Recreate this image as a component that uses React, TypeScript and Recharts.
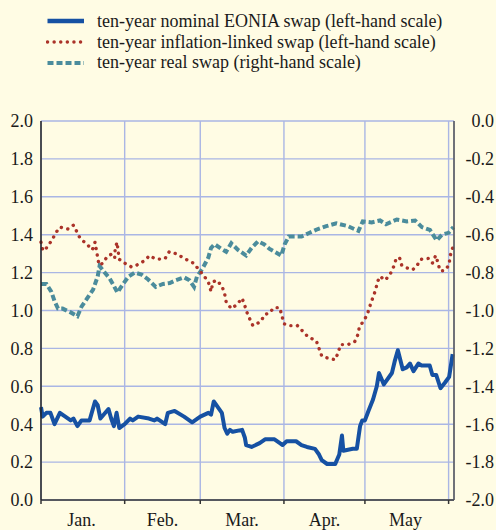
import { LineChart, Line, XAxis, YAxis, CartesianGrid } from "recharts";

// days counted from 1 January
const MONTH_LABELS = ["Jan.", "Feb.", "Mar.", "Apr.", "May"];
const MONTH_STARTS = [0, 31, 59, 90, 120, 151];
const MONTH_MIDS = [15, 45, 74.5, 105, 135];
const LEFT_TICKS = [0, 0.2, 0.4, 0.6, 0.8, 1.0, 1.2, 1.4, 1.6, 1.8, 2.0];
const RIGHT_TICKS = [-2.0, -1.8, -1.6, -1.4, -1.2, -1.0, -0.8, -0.6, -0.4, -0.2, 0];

const NOMINAL_DAYS = [
  0, 0.6, 2, 3.5, 5, 7, 9, 11, 12, 13.5, 15, 18, 20, 21, 22, 25, 26, 27, 28, 29,
  31, 33, 34, 36, 40, 42, 43, 46, 47, 49.5, 53, 56, 59, 62, 63, 64, 65.5, 67, 68, 69,
  70, 71, 74.5, 75.5, 76, 78, 81, 83, 84.5, 86.5, 88.5, 89.5, 91, 94.5, 96.5, 98.5, 101.5, 103, 104, 106,
  109, 110.5, 111.5, 112, 115.5, 117, 118.2, 119, 120, 121.3, 123, 124.4, 125.2, 127, 130, 131, 132.2, 134, 135.5, 136.7,
  138, 139.8, 141, 144, 145, 146.4, 148, 149.7, 151.2, 152.5,
];
const NOMINAL = [
  0.49, 0.44, 0.46, 0.46, 0.4, 0.46, 0.44, 0.42, 0.43, 0.39, 0.42, 0.42, 0.52, 0.5, 0.43, 0.48, 0.43, 0.39, 0.46, 0.38,
  0.4, 0.43, 0.42, 0.44, 0.43, 0.42, 0.43, 0.4, 0.46, 0.47, 0.44, 0.41, 0.44, 0.46, 0.45, 0.52, 0.49, 0.46, 0.38, 0.35,
  0.37, 0.36, 0.37, 0.33, 0.29, 0.28, 0.3, 0.32, 0.32, 0.32, 0.3, 0.29, 0.31, 0.31, 0.29, 0.28, 0.27, 0.24, 0.21, 0.19,
  0.19, 0.24, 0.34, 0.26, 0.27, 0.27, 0.39, 0.42, 0.42, 0.47, 0.53, 0.6, 0.67, 0.61, 0.67, 0.73, 0.79, 0.69, 0.7, 0.72,
  0.68, 0.72, 0.71, 0.71, 0.66, 0.66, 0.59, 0.62, 0.65, 0.77,
];

const INFLATION_DAYS = [
  0, 0.7, 2, 4, 5.5, 7, 10, 12, 13.5, 14.5, 17, 19, 20, 20.5, 21, 21.5, 23, 24.5, 26.5, 27.3,
  27.5, 28.2, 28.5, 29, 31, 33.5, 35.5, 38, 40.3, 42, 44.5, 46, 47.5, 50, 52.5, 55, 56.5, 58.5, 60.5, 62,
  63, 63.7, 65, 67, 68, 68.6, 70.5, 72.5, 74.5, 75.4, 76.3, 77.5, 78.5, 81.3, 83, 84.5, 86.3, 88.4, 89.3, 90,
  92, 95, 97, 99, 102, 103, 104, 106, 109, 110, 111, 113.7, 116.2, 117.3, 118, 119.8, 121, 122, 123, 124,
  124.6, 125.6, 127.5, 129.3, 130.6, 131.5, 132.8, 133.6, 135.5, 137.7, 139.2, 140.7, 143.5, 145, 146.2, 147, 147.8, 149.4, 151.2, 151.5,
  152.5,
];
const INFLATION = [
  1.36, 1.315, 1.33, 1.37, 1.41, 1.44, 1.43, 1.45, 1.41, 1.38, 1.35, 1.32, 1.36, 1.32, 1.28, 1.24, 1.25, 1.285, 1.3, 1.28,
  1.33, 1.36, 1.32, 1.27, 1.25, 1.23, 1.24, 1.26, 1.29, 1.275, 1.27, 1.275, 1.31, 1.3, 1.28, 1.26, 1.25, 1.215, 1.18, 1.15,
  1.1, 1.15, 1.16, 1.13, 1.09, 1.045, 1.01, 1.03, 1.065, 1.03, 0.99, 0.95, 0.92, 0.94, 0.98, 0.985, 1.015, 1.015, 0.97, 0.93,
  0.92, 0.92, 0.89, 0.86, 0.84, 0.8, 0.76, 0.75, 0.74, 0.775, 0.82, 0.82, 0.835, 0.87, 0.915, 0.95, 0.985, 1.03, 1.07, 1.11,
  1.15, 1.18, 1.16, 1.19, 1.23, 1.27, 1.28, 1.24, 1.225, 1.215, 1.235, 1.27, 1.275, 1.25, 1.29, 1.255, 1.21, 1.21, 1.24, 1.285,
  1.33,
];

const REAL_DAYS = [
  0, 2, 3.8, 5, 6.3, 8, 11, 13.5, 15, 17.4, 19.3, 21, 21.7, 23.6, 25.4, 27, 28.3, 30.4, 32.5, 34.7,
  37.2, 39.6, 42.5, 45.2, 47.7, 50, 53, 55, 56.7, 57.8, 59.8, 62, 63, 64.3, 66.8, 68.6, 70.5, 73, 76, 78,
  80.4, 82.6, 84.7, 87.2, 89, 90.3, 91.8, 96.5, 99.5, 102.6, 105.7, 109.4, 113.7, 116.8, 117.6, 119.2, 122.5, 125.6, 127.8, 131.8,
  135.5, 138.6, 141.1, 144.1, 146.6, 148.5, 151, 152.8,
];
const REAL = [
  -0.86, -0.86, -0.9, -0.95, -0.99, -0.99, -1.01, -1.03, -0.98, -0.93, -0.89, -0.82, -0.765, -0.8, -0.83, -0.87, -0.905, -0.86, -0.82, -0.8,
  -0.81, -0.835, -0.875, -0.86, -0.855, -0.84, -0.825, -0.84, -0.875, -0.82, -0.78, -0.72, -0.67, -0.65, -0.675, -0.69, -0.645, -0.68, -0.71, -0.67,
  -0.635, -0.65, -0.675, -0.695, -0.71, -0.65, -0.61, -0.61, -0.59, -0.57, -0.555, -0.54, -0.555, -0.575, -0.58, -0.53, -0.535, -0.525, -0.545, -0.52,
  -0.53, -0.525, -0.56, -0.575, -0.63, -0.6, -0.59, -0.56,
];

const BG = "#fffce4";
const GRID = "#aab6e4";
const BLUE = "#1651a3";
const RED = "#ab3329";
const TEAL = "#4b8c9c";
const FONT = "Liberation Serif";

type Row = { day: number; nominal?: number; inflation?: number; real?: number };

// one table keyed by day, each series filling in its own days
function buildRows(): Row[] {
  const byDay = new Map<number, Row>();
  const put = (days: number[], values: number[], key: "nominal" | "inflation" | "real") => {
    days.forEach((day, i) => {
      const row = byDay.get(day) ?? { day };
      row[key] = values[i];
      byDay.set(day, row);
    });
  };
  put(NOMINAL_DAYS, NOMINAL, "nominal");
  put(INFLATION_DAYS, INFLATION, "inflation");
  put(REAL_DAYS, REAL, "real");
  return [...byDay.values()].sort((a, b) => a.day - b.day);
}

const LEGEND = [
  { label: "ten-year nominal EONIA swap (left-hand scale)", color: BLUE, dash: undefined, width: 4.5, cap: "butt" },
  { label: "ten-year inflation-linked swap (left-hand scale)", color: RED, dash: "0.1 6.5", width: 3.4, cap: "round" },
  { label: "ten-year real swap (right-hand scale)", color: TEAL, dash: "6 3", width: 4, cap: "butt" },
];

const NoLabel = () => <g />;

export default function App() {
  const data = buildRows();
  const tickStyle = { fontSize: 18, fill: "#1a1a1a", fontFamily: FONT };

  return (
    <div style={{ position: "absolute", left: 0, top: 0, width: 496, height: 530, background: BG, fontFamily: FONT }}>
      <div style={{ position: "absolute", left: 46, top: 11 }}>
        {LEGEND.map((item) => (
          <div key={item.label} style={{ display: "flex", alignItems: "center", height: 20.7 }}>
            <svg width={40} height={10} style={{ marginRight: 11 }}>
              <line
                x1={1.5}
                x2={38}
                y1={5}
                y2={5}
                stroke={item.color}
                strokeWidth={item.width}
                strokeDasharray={item.dash}
                strokeLinecap={item.cap as "butt" | "round"}
              />
            </svg>
            <span style={{ fontSize: 18, color: "#1a1a1a", whiteSpace: "nowrap" }}>{item.label}</span>
          </div>
        ))}
      </div>

      <LineChart width={496} height={530} data={data} margin={{ top: 121, right: 0, bottom: 0, left: 0 }}>
        <CartesianGrid xAxisId="d" yAxisId="l" stroke={GRID} strokeWidth={1.4} />
        <XAxis
          xAxisId="d"
          type="number"
          dataKey="day"
          domain={[0, 153]}
          ticks={MONTH_STARTS}
          interval={0}
          tick={NoLabel}
          tickSize={4}
          height={1}
          axisLine={{ stroke: "#333", strokeWidth: 1.5 }}
          tickLine={{ stroke: "#333", strokeWidth: 1.5 }}
        />
        <XAxis
          xAxisId="m"
          type="number"
          dataKey="day"
          domain={[0, 153]}
          ticks={MONTH_MIDS}
          tickFormatter={(v) => MONTH_LABELS[MONTH_MIDS.indexOf(v)] ?? ""}
          height={29}
          axisLine={false}
          tickLine={false}
          tickSize={0}
          tickMargin={12}
          tick={tickStyle}
          interval={0}
        />
        <YAxis
          yAxisId="l"
          orientation="left"
          width={41}
          domain={[0, 2]}
          ticks={LEFT_TICKS}
          interval={0}
          tickFormatter={(v) => v.toFixed(1)}
          tickLine={false}
          tickSize={0}
          tickMargin={8}
          axisLine={{ stroke: "#222", strokeWidth: 1.5 }}
          tick={tickStyle}
        />
        <YAxis
          yAxisId="r"
          orientation="right"
          width={42}
          domain={[-2, 0]}
          ticks={RIGHT_TICKS}
          interval={0}
          tickFormatter={(v) => v.toFixed(1)}
          tickLine={false}
          tickSize={0}
          tickMargin={40}
          axisLine={{ stroke: "#555", strokeWidth: 1.5 }}
          tick={{ ...tickStyle, textAnchor: "end" }}
        />
        <Line
          xAxisId="d"
          yAxisId="r"
          dataKey="real"
          type="linear"
          connectNulls
          stroke={TEAL}
          strokeWidth={4}
          strokeDasharray="6 3"
          dot={false}
          isAnimationActive={false}
        />
        <Line
          xAxisId="d"
          yAxisId="l"
          dataKey="inflation"
          type="linear"
          connectNulls
          stroke={RED}
          strokeWidth={3.4}
          strokeDasharray="0.1 6.5"
          strokeLinecap="round"
          dot={false}
          isAnimationActive={false}
        />
        <Line
          xAxisId="d"
          yAxisId="l"
          dataKey="nominal"
          type="linear"
          connectNulls
          stroke={BLUE}
          strokeWidth={4}
          strokeLinejoin="round"
          dot={false}
          isAnimationActive={false}
        />
      </LineChart>
    </div>
  );
}
